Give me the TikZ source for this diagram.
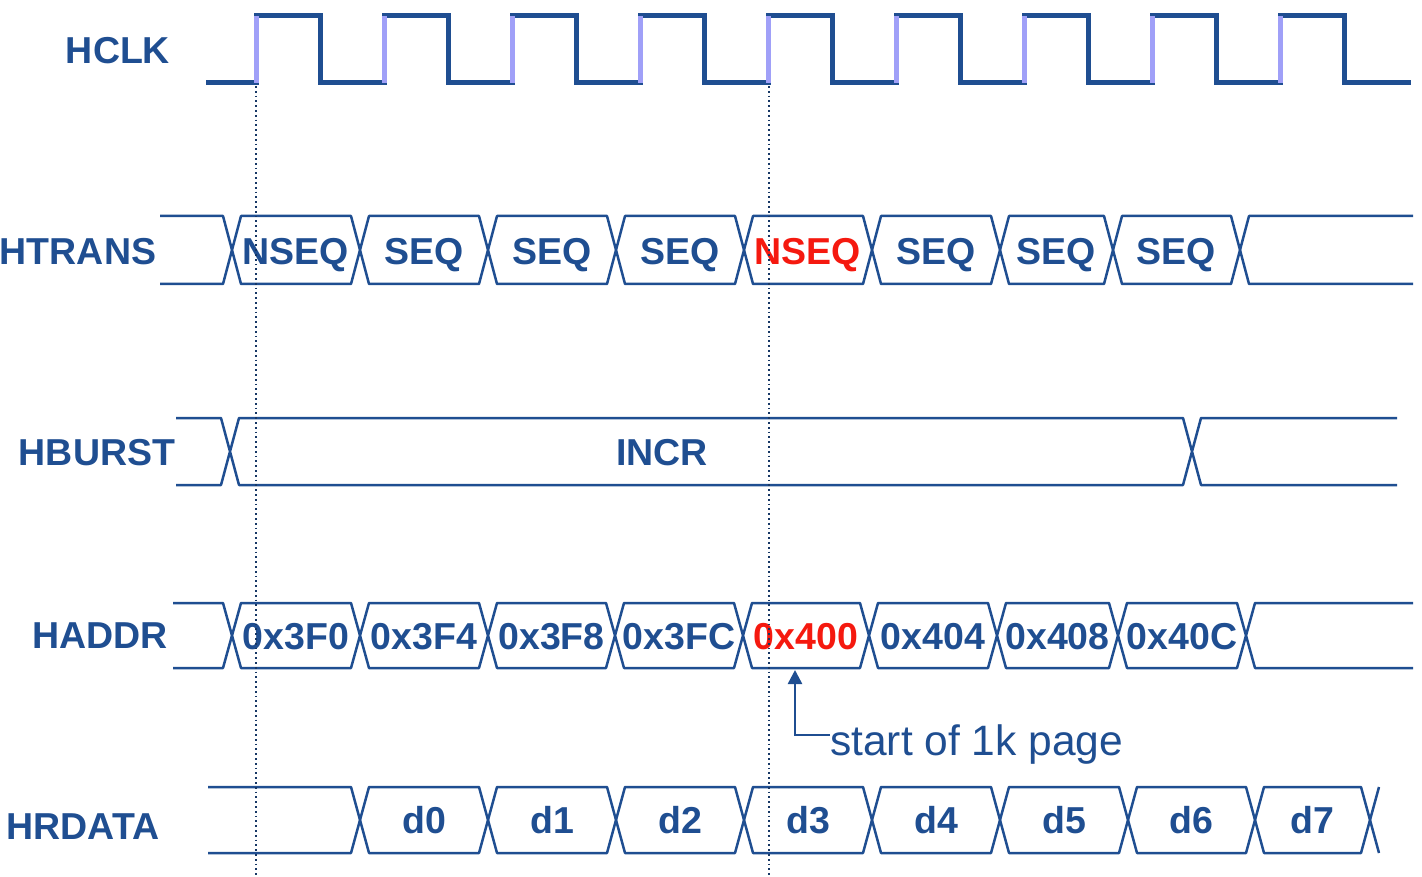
\documentclass[tikz,border=0pt]{standalone}
\usepackage{fontspec}
\setmainfont{Liberation Sans}
\usetikzlibrary{arrows.meta}
\definecolor{sigblue}{HTML}{1F4E91}
\definecolor{edgeblue}{HTML}{A0A0F8}
\definecolor{hotred}{HTML}{F5190F}
\tikzset{
	sig/.style={font=\bfseries\fontsize{37.5}{40}\selectfont,text=sigblue,inner sep=0pt,text depth=0pt},
	bus/.style={draw=sigblue,line width=2.5pt,line join=round},
	clk/.style={draw=sigblue,line width=5pt,line cap=rect},
	guide/.style={draw=sigblue!70!black,line width=1.8pt,dash pattern=on 1.8pt off 3pt}
}
\begin{document}
\begin{tikzpicture}[x=1pt,y=-1pt]
	\useasboundingbox (0,0) rectangle (1422,877);
	% signal names
	\foreach \x/\y/\gt in {118/50/HCLK,78/251/HTRANS,97/452/HBURST,100/636/HADDR,83/827/HRDATA}\path (\x,\y) node[sig](\gt){\gt};
	% clock
	\draw[clk] (208,83)--(256,83);
	\foreach \x in {256,384,...,1280}\draw[clk] (\x,16)--(\x+64,16)--(\x+64,83)--(\x+128,83);
	\foreach \x in {256,384,...,1280}\draw[draw=edgeblue,line width=5pt] (\x,83)--(\x,16);
	% HTRANS
	\draw[bus] (160,216)--(223,216)--(232,250)--(223,284)--(160,284) (1413,216)--(1249,216)--(1240,250)--(1249,284)--(1413,284);
	\foreach \a/\b/\gt/\c[count=\i] in {232/360/NSEQ/sigblue,360/488/SEQ/sigblue,488/616/SEQ/sigblue,616/744/SEQ/sigblue,744/872/NSEQ/hotred,872/1000/SEQ/sigblue,1000/1113/SEQ/sigblue,1113/1240/SEQ/sigblue}
		\draw[bus] (\a,250)--(\a+9,216)--(\b-9,216)--(\b,250)--(\b-9,284)--(\a+9,284)--cycle (\a/2+\b/2,251) node[sig,text=\c](trans\i){\gt};
	% HBURST
	\draw[bus] (176,418)--(221,418)--(230,451.5)--(239,418)--(1183,418)--(1192,451.5)--(1201,418)--(1397,418)
		(176,485)--(221,485)--(230,451.5)--(239,485)--(1183,485)--(1192,451.5)--(1201,485)--(1397,485);
	\path (662,452) node[sig](burst){INCR};
	% HADDR
	\draw[bus] (173,603)--(223,603)--(232,635.5)--(223,668)--(173,668) (1413,603)--(1255,603)--(1246,635.5)--(1255,668)--(1413,668);
	\foreach \a/\b/\gt/\c[count=\i] in {232/360/0x3F0/sigblue,360/488/0x3F4/sigblue,488/615/0x3F8/sigblue,615/743/0x3FC/sigblue,743/869/0x400/hotred,869/997/0x404/sigblue,997/1118/0x408/sigblue,1118/1246/0x40C/sigblue}
		\draw[bus] (\a,635.5)--(\a+9,603)--(\b-9,603)--(\b,635.5)--(\b-9,668)--(\a+9,668)--cycle (\a/2+\b/2,636) node[sig,text=\c](addr\i){\gt};
	% HRDATA
	\draw[bus] (208,787)--(351,787)--(360,820)--(351,853)--(208,853) (1379,787)--(1370,820)--(1379,853);
	\foreach \a/\b/\gt[count=\i] in {360/488/d0,488/616/d1,616/744/d2,744/872/d3,872/1000/d4,1000/1128/d5,1128/1255/d6,1255/1370/d7}
		\draw[bus] (\a,820)--(\a+9,787)--(\b-9,787)--(\b,820)--(\b-9,853)--(\a+9,853)--cycle (\a/2+\b/2,820) node[sig](data\i){\gt};
	% clock edge markers
	\draw[guide] (256,86)--(256,877) (769,86)--(769,877);
	% page note
	\node[anchor=base west,font=\fontsize{42.5}{45}\selectfont,text=sigblue,inner sep=0pt] (page) at (830,755) {start of 1k page};
	\coordinate (tip) at (795,670);
	\draw[draw=sigblue,line width=2.5pt,-{Triangle[length=14pt,width=14pt]}] ([yshift=9pt]page.west) -| (tip);
\end{tikzpicture}
\end{document}
